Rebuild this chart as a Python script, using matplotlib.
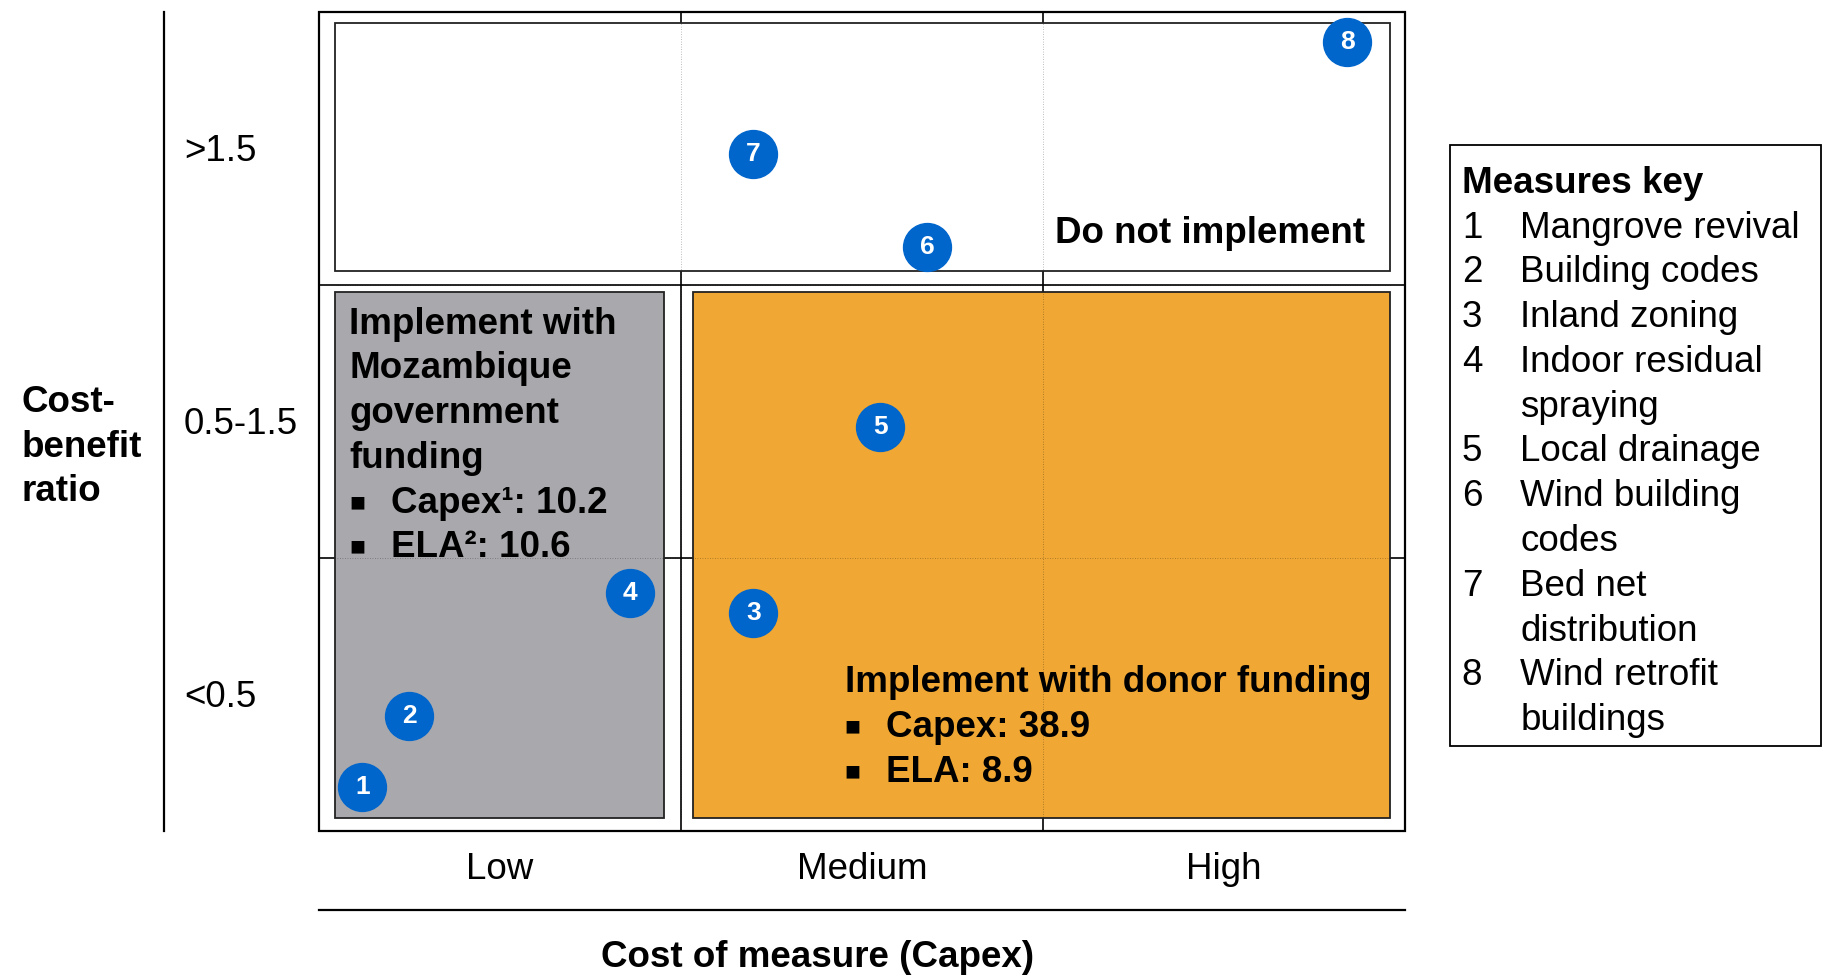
import matplotlib
matplotlib.use('Agg')
import matplotlib.pyplot as plt
from matplotlib.patches import Rectangle

plt.rcParams['font.family'] = ['Liberation Sans', 'DejaVu Sans']

# --- data ---
cost_levels = ['Low', 'Medium', 'High']
ratio_levels = ['<0.5', '0.5-1.5', '>1.5']  # bottom to top
measure_ids = [1, 2, 3, 4, 5, 6, 7, 8]
measure_names = ['Mangrove revival', 'Building codes', 'Inland zoning',
                 'Indoor residual\nspraying', 'Local drainage',
                 'Wind building\ncodes', 'Bed net\ndistribution',
                 'Wind retrofit\nbuildings']
# position on the 3x3 grid (0..3 on both axes)
measure_cost = [0.12, 0.25, 1.20, 0.86, 1.55, 1.68, 1.20, 2.84]
measure_ratio = [0.16, 0.42, 0.80, 0.87, 1.48, 2.14, 2.48, 2.89]

gov_lines = ['Implement with', 'Mozambique', 'government', 'funding']
gov_bullets = ['Capex\u00b9: 10.2', 'ELA\u00b2: 10.6']
donor_title = 'Implement with donor funding'
donor_bullets = ['Capex: 38.9', 'ELA: 8.9']

FS = 26.5
BLUE = '#0066cc'
GRAY = '#a9a9ad'
ORANGE = '#f0a733'
T = -0.011  # small vertical nudge for text

fig = plt.figure(figsize=(18.24, 9.76), dpi=100)
ax = fig.add_axes([319 / 1824, 1 - 831 / 976, 1086 / 1824, 819 / 976])
ax.set_xlim(0, 3)
ax.set_ylim(0, 3)
ax.axis('off')

# grid
ax.add_patch(Rectangle((0, 0), 3, 3, fill=False, ec='black', lw=1.6, clip_on=False, zorder=1))
for v in [1, 2]:
    ax.plot([v, v], [0, 3], color='black', lw=1.2, zorder=1)
    ax.plot([0, 3], [v, v], color='black', lw=1.2, zorder=1)

# zones
ax.add_patch(Rectangle((0.044, 2.05), 2.915, 0.91, fc='white', ec='#222222', lw=1.3, zorder=2))
ax.add_patch(Rectangle((0.044, 0.048), 0.909, 1.926, fc=GRAY, ec='#222222', lw=1.3, zorder=2))
ax.add_patch(Rectangle((1.033, 0.048), 1.926, 1.926, fc=ORANGE, ec='#222222', lw=1.3, zorder=2))

# faint grid showing through the zones
for v in [1, 2]:
    ax.plot([v, v], [0.05, 2.96], color='black', lw=0.6, ls=(0, (1, 2)), alpha=0.35, zorder=3)
    ax.plot([0.05, 2.96], [v, v], color='black', lw=0.6, ls=(0, (1, 2)), alpha=0.35, zorder=3)

# zone texts
ax.text(2.033, 2.20 + T, 'Do not implement', fontsize=FS, fontweight='bold', va='center', zorder=4)
dy = 0.164
for i, line in enumerate(gov_lines):
    ax.text(0.083, 1.868 - i * dy + T, line, fontsize=FS, fontweight='bold', va='center', zorder=4)
for i, line in enumerate(gov_bullets):
    yy = 1.868 - (len(gov_lines) + i) * dy + T
    ax.text(0.083, yy, '\u25a0', fontsize=19, va='center', zorder=4)
    ax.text(0.199, yy, line, fontsize=FS, fontweight='bold', va='center', zorder=4)
ax.text(1.452, 0.555 + T, donor_title, fontsize=FS, fontweight='bold', va='center', zorder=4)
for i, line in enumerate(donor_bullets):
    yy = 0.555 - (i + 1) * dy + T
    ax.text(1.452, yy, '\u25a0', fontsize=19, va='center', zorder=4)
    ax.text(1.567, yy, line, fontsize=FS, fontweight='bold', va='center', zorder=4)

# measure markers
ax.scatter(measure_cost, measure_ratio, s=1190, c=BLUE, zorder=5, clip_on=False)
for x, y, n in zip(measure_cost, measure_ratio, measure_ids):
    ax.text(x, y, str(n), color='white', fontsize=19, fontweight='bold',
            ha='center', va='center', zorder=6)

# axis labels
for i, lab in enumerate(ratio_levels):
    ax.text(-0.373, i + 0.5 + T, lab, fontsize=FS, ha='left', va='center', clip_on=False)
for i, lab in enumerate(cost_levels):
    ax.text(i + 0.5, -0.131 + T, lab, fontsize=FS, ha='center', va='center', clip_on=False)
ax.plot([-0.428, -0.428], [0, 3], color='black', lw=1.6, clip_on=False)
ax.plot([0, 3], [-0.288, -0.288], color='black', lw=1.6, clip_on=False)
ax.text(1.378, -0.454 + T, 'Cost of measure (Capex)', fontsize=FS, fontweight='bold',
        ha='center', va='center', clip_on=False)
for i, line in enumerate(['Cost-', 'benefit', 'ratio']):
    ax.text(-0.823, 1.579 - i * 0.1625 + T, line, fontsize=FS, fontweight='bold',
            ha='left', va='center', clip_on=False)

# measures key
ax.add_patch(Rectangle((3.123, 0.312), 1.026, 2.199, fill=False, ec='black', lw=1.3, clip_on=False))
ky = 2.3835 + T
ax.text(3.157, ky, 'Measures key', fontsize=FS, fontweight='bold', va='center', clip_on=False)
for n, name in zip(measure_ids, measure_names):
    ky -= dy
    ax.text(3.157, ky, str(n), fontsize=FS, va='center', clip_on=False)
    parts = name.split('\n')
    for j, p in enumerate(parts):
        if j > 0:
            ky -= dy
        ax.text(3.318, ky, p, fontsize=FS, va='center', clip_on=False)

fig.savefig('out.png', dpi=100)
